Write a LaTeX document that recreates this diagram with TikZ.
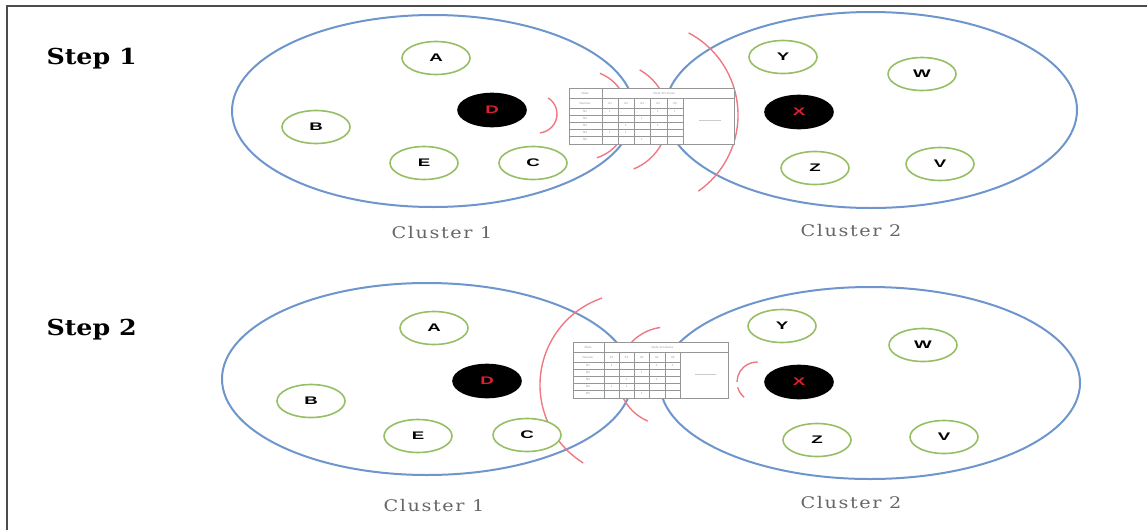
\documentclass[tikz,border=0pt]{standalone}
\usepackage{fontspec}
\usetikzlibrary{shapes.geometric}

\newfontfamily\stepfont[FakeStretch=1.15]{DejaVu Serif}
\newfontfamily\clusterfont[FakeStretch=1.2,LetterSpace=10]{DejaVu Serif}
\newfontfamily\memberfont[FakeStretch=1.7]{Liberation Sans}

\definecolor{clusterblue}{RGB}{110,150,205}
\definecolor{membergreen}{RGB}{150,190,100}
\definecolor{wavered}{RGB}{238,120,132}
\definecolor{headred}{RGB}{225,30,45}
\definecolor{gridgray}{RGB}{150,150,150}

\tikzset{
  cluster/.style={draw=clusterblue, line width=2pt, ellipse, inner sep=0pt, outer sep=0pt},
  member/.style={draw=membergreen, line width=1.6pt, ellipse, fill=white,
    minimum width=68pt, minimum height=33pt, inner sep=0pt,
    font=\memberfont\bfseries\fontsize{11}{11}\selectfont},
  head/.style={member, draw=black, fill=black, text=headred},
  wave/.style={draw=wavered, line width=1.4pt},
  steplabel/.style={anchor=base west, font=\stepfont\bfseries\fontsize{22}{22}\selectfont},
  clusterlabel/.style={text=black!60, font=\clusterfont\fontsize{16}{16}\selectfont},
  grid/.style={draw=gridgray, line width=.6pt},
  celltext/.style={text=gridgray, inner sep=0pt, font=\sffamily\fontsize{3}{3}\selectfont},
  % node/attribute table laid on top of the two clusters
  attrtable/.pic={
    \path[grid, fill=white] (0,0) rectangle (165,-56);
    \draw[grid] (33,0) -- (33,-56);
    \draw[grid] (0,-10) -- (165,-10);
    \draw[grid] (0,-20) -- (114,-20);
    \foreach \x in {49,65,81,98,114} \draw[grid] (\x,-10) -- (\x,-56);
    \foreach \y in {-27,-34,-41,-48} \draw[grid] (0,\y) -- (114,\y);
    \draw[grid, draw=gridgray!50] (130,-32) -- (152,-32);
    \node[celltext] (hd) at (16,-5) {Node};
    \node[celltext] (nb) at (16,-15) {Number};
    \node[celltext] (at) at (95,-5) {Node Attributes};
    \foreach \x/\i in {41/1,57/2,73/3,89/4,106/5}
      \node[celltext] (col\i) at (\x,-15) {A\i};
    \foreach \y/\i in {-23.5/1,-30.5/2,-37.5/3,-44.5/4,-51.5/5}
      \node[celltext] (row\i) at (16,\y) {N\i};
    \foreach \x/\y [count=\i] in {41/-23.5,89/-23.5,106/-23.5,73/-30.5,57/-37.5,
        89/-37.5,41/-44.5,57/-44.5,73/-51.5}
      \node[celltext] (val\i) at (\x,\y) {1};
  }
}

\begin{document}
\begin{tikzpicture}[x=1pt, y=1pt]
\useasboundingbox (0,0) rectangle (1147,-530);
\draw[black!70, line width=2pt] (7,-530) -- (7,-6) -- (1147,-6);

\node[steplabel] (s1) at (43,-64) {Step 1};
\node[steplabel] (s2) at (43,-335) {Step 2};

% step 1
\node[cluster, minimum width=402pt, minimum height=192pt] (c11) at (433,-111) {};
\node[cluster, minimum width=412pt, minimum height=196pt] (c12) at (871,-110) {};
\draw[wave] (538,-114) ++(58:19) arc[start angle=58, end angle=-84, radius=19];
\draw[wave] (583,-115) ++(68:45) arc[start angle=68, end angle=-72, radius=45];
\draw[wave] (613,-118) ++(61:55) arc[start angle=61, end angle=-68, radius=55];
\draw[wave] (645,-115) ++(62:93) arc[start angle=62, end angle=-55, radius=93];
\pic at (569,-88) {attrtable};

\foreach \name/\pos/\txt in {a1/{436,-58}/A, b1/{316,-127}/B, e1/{424,-163}/E,
    c1/{533,-163}/C, y1/{783,-57}/Y, w1/{922,-74}/W, z1/{815,-168}/Z, v1/{940,-164}/V}
  \node[member] (\name) at (\pos) {\txt};
\node[head] (d1) at (492,-110) {D};
\node[head] (x1) at (799,-112) {X};

\node[clusterlabel] (l11) at (442,-233) {Cluster 1};
\node[clusterlabel] (l12) at (851,-231) {Cluster 2};

% step 2
\node[cluster, minimum width=410pt, minimum height=192pt] (c21) at (427,-379) {};
\node[cluster, minimum width=420pt, minimum height=192pt] (c22) at (870,-383) {};
\draw[wave] (632,-385) ++(109:92) arc[start angle=109, end angle=238, radius=92];
\draw[wave] (667,-376) ++(98:49) arc[start angle=98, end angle=247, radius=49];
\draw[wave] (757,-382) ++(88:20) arc[start angle=88, end angle=180, radius=20];
\draw[wave] (757,-382) ++(195:20) arc[start angle=195, end angle=230, radius=20];
\pic[xscale=.94] at (573,-342) {attrtable};

\foreach \name/\pos/\txt in {a2/{434,-328}/A, b2/{311,-401}/B, e2/{418,-436}/E,
    c2/{527,-435}/C, y2/{782,-326}/Y, w2/{923,-345}/W, z2/{817,-440}/Z, v2/{944,-437}/V}
  \node[member] (\name) at (\pos) {\txt};
\node[head] (d2) at (487,-381) {D};
\node[head] (x2) at (799,-382) {X};

\node[clusterlabel] (l21) at (434,-506) {Cluster 1};
\node[clusterlabel] (l22) at (851,-503) {Cluster 2};
\end{tikzpicture}
\end{document}
